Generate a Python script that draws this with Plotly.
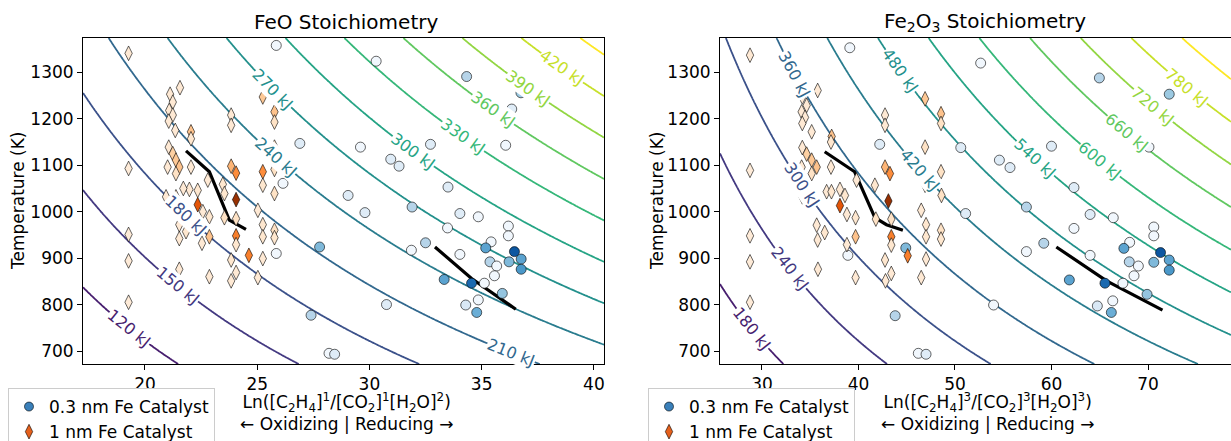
import math
import numpy as np
import plotly.graph_objects as go
from plotly.colors import sample_colorscale, sequential

W, H = 1231, 441
R_GAS = 8.314  # J / (mol K)

# ---------------- axis limits ----------------
X1_RANGE = [17.24, 40.45]
X2_RANGE = [25.65, 78.6]
Y_RANGE = [672, 1374]

# ---------------- contour levels (kJ) ----------------
FEO_LEVELS = dict(start=90, end=450, size=30)
FE2O3_LEVELS = dict(start=120, end=840, size=60)
FEO_LABEL_LEVELS = [120, 150, 180, 210, 240, 270, 300, 330, 360, 390, 420]
FE2O3_LABEL_LEVELS = [180, 240, 300, 360, 420, 480, 540, 600, 660, 720, 780]
# x position along each labelled contour where its label sits
FEO_LABEL_X = [19.3, 21.46, 21.83, 36.3, 25.85, 25.7, 31.95, 34.18, 35.52, 37.08, 38.57]
FE2O3_LABEL_X = [28.93, 32.9, 34.1, 33.4, 46.4, 44.3, 58.3, 65.0, 67.8, 70.55, 74.0]

# ---------------- FeO panel data ----------------
feo_small_x = [30.3, 34.33, 36.75, 36.34, 36.07, 32.72, 29.6, 30.95, 31.32, 33.5, 29.05, 31.9,
               25.85, 26.9, 26.15, 27.78, 25.85, 27.4, 28.2, 28.45, 29.8, 34.03, 34.85, 33.48,
               36.19, 36.19, 35.42, 32.5, 31.87, 34.03, 35.18, 36.46, 36.76, 36.76, 36.22, 35.37,
               35.67, 35.57, 33.33, 34.55, 35.12, 35.92, 34.85, 34.29, 34.78, 30.76]
feo_small_t = [1324, 1291, 1256, 1221, 1143, 1145, 1139, 1113, 1098, 1053, 1035, 1010,
               1358, 1147, 1061, 924, 910, 777, 695, 693, 998, 996, 989, 965,
               969, 948, 935, 933, 917, 908, 922, 914, 898, 876, 892, 892,
               883, 862, 854, 846, 846, 824, 810, 799, 783, 800]
feo_small_c = [0.03, 0.3, 0.38, 0.12, 0.03, 0.12, 0.03, 0.12, 0.12, 0.12, 0.12, 0.3,
               0.03, 0.12, 0.03, 0.45, 0.03, 0.3, 0.03, 0.12, 0.12, 0.12, 0.03, 0.03,
               0.03, 0.03, 0.03, 0.3, 0.03, 0.03, 0.55, 0.85, 0.55, 0.6, 0.45, 0.3,
               0.03, 0.03, 0.55, 0.78, 0.03, 0.4, 0.03, 0.15, 0.5, 0.12]

feo_large_x = [19.27, 21.56, 21.12, 21.24, 21.08, 21.24, 21.06, 21.35, 22.05, 22.05, 23.84, 23.84,
               25.25, 25.77, 25.77, 21.06, 21.24, 21.38, 21.53, 21.01, 21.38, 22.05, 19.27, 23.84,
               24.06, 22.8, 23.47, 21.98, 22.35, 21.71, 25.25, 25.77, 25.25, 25.77, 24.06, 22.35,
               20.94, 21.38, 23.54, 22.58, 22.87, 21.53, 21.83, 21.53, 22.87, 22.54, 23.54, 24.06,
               24.06, 24.06, 25.03, 25.25, 25.25, 25.77, 25.77, 19.27, 19.27, 19.27, 23.84, 24.06,
               23.84, 24.63, 25.25, 25.03, 21.53, 22.87, 25.77]
feo_large_t = [1341, 1267, 1253, 1236, 1218, 1208, 1195, 1175, 1172, 1157, 1208, 1186,
               1247, 1215, 1193, 1139, 1125, 1111, 1096, 1096, 1082, 1096, 1093, 1098,
               1083, 1068, 1059, 1048, 1046, 1050, 1086, 1091, 1057, 1039, 1026, 1015,
               1032, 1032, 1039, 1000, 989, 972, 957, 942, 946, 932, 987, 985,
               948, 929, 1003, 972, 946, 960, 944, 951, 894, 805, 896, 869,
               851, 906, 899, 858, 876, 860, 1139]
feo_large_c = [0.1, 0.1, 0.1, 0.1, 0.1, 0.1, 0.1, 0.1, 0.3, 0.12, 0.1, 0.1,
               0.28, 0.3, 0.15, 0.1, 0.25, 0.28, 0.3, 0.1, 0.15, 0.1, 0.08, 0.35,
               0.5, 0.1, 0.12, 0.1, 0.12, 0.1, 0.5, 0.15, 0.12, 0.15, 0.92, 0.7,
               0.1, 0.12, 0.12, 0.1, 0.12, 0.1, 0.12, 0.1, 0.3, 0.1, 0.15, 0.15,
               0.55, 0.12, 0.1, 0.12, 0.12, 0.15, 0.12, 0.08, 0.08, 0.08, 0.12, 0.1,
               0.1, 0.55, 0.1, 0.1, 0.1, 0.1, 0.15]

feo_trend_a_x = [21.83, 22.87, 23.76, 24.5]
feo_trend_a_t = [1131, 1086, 982, 962]
feo_trend_b_x = [32.92, 34.55, 36.52]
feo_trend_b_t = [924, 856, 790]

# ---------------- Fe2O3 panel data ----------------
fe2o3_small_x = [39.1, 42.2, 50.6, 52.66, 64.96, 72.2, 70.97, 70.1, 60.0, 54.6, 55.7, 62.33,
                 57.4, 51.1, 64.0, 66.4, 62.33, 70.6, 70.6, 68.1, 59.2, 57.4, 64.0, 67.5,
                 71.3, 72.2, 72.2, 70.6, 68.06, 69.0, 68.55, 61.85, 65.54, 67.4, 69.9, 66.35,
                 64.75, 66.2, 54.0, 44.9, 38.9, 43.8, 46.2, 47.0]
fe2o3_small_t = [1353, 1145, 1138, 1320, 1288, 1253, 1218, 1139, 1141, 1111, 1095, 1052,
                 1010, 996, 994, 987, 964, 967, 948, 934, 932, 914, 906, 921,
                 912, 896, 874, 891, 892, 883, 862, 853, 846, 846, 822, 808,
                 797, 783, 799, 922, 906, 776, 695, 693]
fe2o3_small_c = [0.03, 0.12, 0.12, 0.03, 0.3, 0.38, 0.12, 0.03, 0.12, 0.12, 0.12, 0.12,
                 0.3, 0.12, 0.12, 0.03, 0.03, 0.03, 0.03, 0.03, 0.3, 0.03, 0.03, 0.55,
                 0.85, 0.55, 0.6, 0.45, 0.3, 0.03, 0.03, 0.55, 0.78, 0.03, 0.4, 0.03,
                 0.15, 0.5, 0.03, 0.45, 0.03, 0.3, 0.03, 0.12]

fe2o3_large_x = [28.76, 35.77, 34.18, 34.63, 34.11, 34.46, 34.18, 35.15, 37.22, 37.15, 42.75, 42.75,
                 46.9, 48.55, 48.55, 34.18, 34.63, 35.15, 35.67, 34.11, 35.15, 37.15, 28.76, 42.75,
                 43.26, 46.9, 46.9, 48.55, 39.8, 41.7, 46.9, 48.6, 36.7, 37.2, 38.08, 38.6,
                 43.1, 38.08, 34.18, 35.2, 38.8, 39.7, 35.67, 36.5, 35.77, 39.7, 38.8, 41.8,
                 43.4, 43.4, 43.4, 46.5, 47.0, 47.0, 48.55, 48.55, 28.76, 28.76, 28.76, 42.75,
                 43.4, 42.8, 45.1, 47.0, 46.5, 35.8, 39.7]
fe2o3_large_t = [1337, 1261, 1247, 1229, 1215, 1203, 1190, 1172, 1162, 1150, 1208, 1186,
                 1243, 1211, 1190, 1138, 1124, 1111, 1096, 1096, 1082, 1096, 1089, 1096,
                 1082, 1139, 1082, 1086, 1068, 1057, 1057, 1035, 1043, 1043, 1048, 1035,
                 1023, 1013, 1032, 1030, 994, 987, 971, 955, 939, 946, 929, 984,
                 984, 946, 928, 1003, 972, 946, 960, 941, 948, 892, 805, 896,
                 867, 851, 905, 898, 858, 876, 858]
fe2o3_large_c = [0.1, 0.1, 0.1, 0.1, 0.1, 0.1, 0.1, 0.1, 0.3, 0.12, 0.1, 0.1,
                 0.28, 0.3, 0.15, 0.1, 0.25, 0.28, 0.3, 0.1, 0.15, 0.1, 0.08, 0.35,
                 0.5, 0.15, 0.5, 0.15, 0.1, 0.12, 0.12, 0.15, 0.1, 0.12, 0.1, 0.12,
                 0.92, 0.7, 0.1, 0.12, 0.1, 0.12, 0.1, 0.12, 0.1, 0.3, 0.1, 0.15,
                 0.15, 0.55, 0.12, 0.1, 0.12, 0.12, 0.15, 0.12, 0.08, 0.08, 0.08, 0.12,
                 0.1, 0.1, 0.55, 0.1, 0.1, 0.1, 0.1]

fe2o3_trend_a_x = [36.5, 39.6, 41.7, 42.9, 44.6]
fe2o3_trend_a_t = [1129, 1086, 987, 972, 960]
fe2o3_trend_b_x = [60.5, 65.7, 71.5]
fe2o3_trend_b_t = [924, 851, 788]

SMALL_NAME = "0.3 nm Fe Catalyst"
LARGE_NAME = "1 nm Fe Catalyst"

# ---------------- layout geometry (pixels) ----------------
P1_L, P1_R = 83, 604
P2_L, P2_R = 720, 1231
P_TOP, P_BOT = 38, 364
LEGEND_TOP = 388
XTITLE_TOP = 388
FONT = "DejaVu Sans"
FS = 17

def px(x):
    return x / W

def py(y):
    return 1 - y / H

VIRIDIS = sequential.Viridis
BLUES = sequential.Blues
ORANGES = sequential.Oranges

fig = go.Figure()

def add_panel(xr, levels, xa, ya):
    gx = np.linspace(xr[0], xr[1], 300)
    gy = np.linspace(Y_RANGE[0], Y_RANGE[1], 300)
    z = R_GAS * gy[:, None] * gx[None, :] / 1000.0
    fig.add_trace(go.Contour(
        x=gx, y=gy, z=z, xaxis=xa, yaxis=ya,
        autocontour=False,
        contours=dict(start=levels["start"], end=levels["end"], size=levels["size"],
                      coloring="lines", showlabels=False),
        colorscale=VIRIDIS, showscale=False, line=dict(width=1.8),
        hoverinfo="skip"))

add_panel(X1_RANGE, FEO_LEVELS, "x", "y")
add_panel(X2_RANGE, FE2O3_LEVELS, "x2", "y2")

def add_line(xs, ts, xa, ya):
    fig.add_trace(go.Scatter(x=xs, y=ts, xaxis=xa, yaxis=ya, mode="lines",
                             line=dict(color="black", width=3.2), showlegend=False,
                             hoverinfo="skip"))

add_line(feo_trend_a_x, feo_trend_a_t, "x", "y")
add_line(feo_trend_b_x, feo_trend_b_t, "x", "y")
add_line(fe2o3_trend_a_x, fe2o3_trend_a_t, "x2", "y2")
add_line(fe2o3_trend_b_x, fe2o3_trend_b_t, "x2", "y2")

def add_points(xs, ts, cs, scale, symbol, size, xa, ya):
    fig.add_trace(go.Scatter(
        x=xs, y=ts, xaxis=xa, yaxis=ya, mode="markers", showlegend=False,
        marker=dict(color=cs, colorscale=scale, cmin=0, cmax=1, symbol=symbol, size=size,
                    line=dict(color="black", width=0.6))))

add_points(feo_small_x, feo_small_t, feo_small_c, BLUES, "circle", 10, "x", "y")
add_points(feo_large_x, feo_large_t, feo_large_c, ORANGES, "diamond-tall", 10.5, "x", "y")
add_points(fe2o3_small_x, fe2o3_small_t, fe2o3_small_c, BLUES, "circle", 10, "x2", "y2")
add_points(fe2o3_large_x, fe2o3_large_t, fe2o3_large_c, ORANGES, "diamond-tall", 10.5, "x2", "y2")

# legend-only entries
for lg, xa, ya in (("legend", "x", "y"), ("legend2", "x2", "y2")):
    fig.add_trace(go.Scatter(x=[None], y=[None], xaxis=xa, yaxis=ya, mode="markers",
                             name=SMALL_NAME, legend=lg,
                             marker=dict(color="#3a80ba", size=9, symbol="circle",
                                         line=dict(color="black", width=0.6))))
    fig.add_trace(go.Scatter(x=[None], y=[None], xaxis=xa, yaxis=ya, mode="markers",
                             name=LARGE_NAME, legend=lg,
                             marker=dict(color="#e5601c", size=10.5, symbol="diamond-tall",
                                         line=dict(color="black", width=0.6))))

# contour labels
annotations = []

def label_contours(levels_cfg, label_levels, label_x, xr, pl, pr, xref, yref):
    kx = (pr - pl) / (xr[1] - xr[0])
    ky = (P_BOT - P_TOP) / (Y_RANGE[1] - Y_RANGE[0])
    span = levels_cfg["end"] - levels_cfg["start"]
    for lvl, xv in zip(label_levels, label_x):
        tv = lvl * 1000.0 / (R_GAS * xv)
        ang = math.degrees(math.atan((tv / xv) * ky / kx))
        col = sample_colorscale(VIRIDIS, [(lvl - levels_cfg["start"]) / span])[0]
        annotations.append(dict(x=xv, y=tv, xref=xref, yref=yref, text=f"{lvl} kJ",
                                showarrow=False, textangle=ang, bgcolor="white",
                                borderpad=0,
                                font=dict(family=FONT, size=FS - 1, color=col)))

label_contours(FEO_LEVELS, FEO_LABEL_LEVELS, FEO_LABEL_X, X1_RANGE, P1_L, P1_R, "x", "y")
label_contours(FE2O3_LEVELS, FE2O3_LABEL_LEVELS, FE2O3_LABEL_X, X2_RANGE, P2_L, P2_R, "x2", "y2")

# titles and axis labels
for text, cx in (("FeO Stoichiometry", 346), ("Fe<sub>2</sub>O<sub>3</sub> Stoichiometry", 985)):
    annotations.append(dict(x=px(cx), y=py(22), xref="paper", yref="paper", text=text,
                            showarrow=False, font=dict(family=FONT, size=20, color="black"),
                            xanchor="center", yanchor="middle"))
xt1 = ("Ln([C<sub>2</sub>H<sub>4</sub>]<sup>1</sup>/[CO<sub>2</sub>]<sup>1</sup>"
       "[H<sub>2</sub>O]<sup>2</sup>)<br>← Oxidizing | Reducing →")
xt2 = ("Ln([C<sub>2</sub>H<sub>4</sub>]<sup>3</sup>/[CO<sub>2</sub>]<sup>3</sup>"
       "[H<sub>2</sub>O]<sup>3</sup>)<br>← Oxidizing | Reducing →")
for text, cx in ((xt1, 346), (xt2, 987)):
    annotations.append(dict(x=px(cx), y=py(XTITLE_TOP), xref="paper", yref="paper", text=text,
                            showarrow=False, font=dict(family=FONT, size=FS, color="black"),
                            xanchor="center", yanchor="top"))
for cx in (18, 657):
    annotations.append(dict(x=px(cx), y=py((P_TOP + P_BOT) / 2), xref="paper", yref="paper",
                            text="Temperature (K)", showarrow=False, textangle=-90,
                            font=dict(family=FONT, size=FS, color="black"),
                            xanchor="center", yanchor="middle"))

axis_common = dict(showline=True, linecolor="black", linewidth=1, ticks="outside",
                   ticklen=5, tickwidth=1, tickcolor="black", showgrid=False, zeroline=False,
                   automargin=False,
                   tickfont=dict(family=FONT, size=FS, color="black"))

fig.update_layout(
    width=W, height=H, margin=dict(l=0, r=0, t=0, b=0, autoexpand=False),
    paper_bgcolor="white", plot_bgcolor="white",
    font=dict(family=FONT, size=FS, color="black"),
    xaxis=dict(domain=[px(P1_L), px(P1_R)], range=X1_RANGE, dtick=5, tick0=0, mirror=True,
               anchor="y", **axis_common),
    yaxis=dict(domain=[py(P_BOT), py(P_TOP)], range=Y_RANGE, dtick=100, tick0=0, mirror=True,
               anchor="x", **axis_common),
    xaxis2=dict(domain=[px(P2_L), 1.0], range=X2_RANGE, dtick=10, tick0=0, mirror=True,
                anchor="y2", **axis_common),
    yaxis2=dict(domain=[py(P_BOT), py(P_TOP)], range=Y_RANGE, dtick=100, tick0=0, mirror=False,
                anchor="x2", **axis_common),
    legend=dict(x=px(8), y=py(LEGEND_TOP), xanchor="left", yanchor="top", bgcolor="white",
                bordercolor="#cccccc", borderwidth=1, font=dict(family=FONT, size=FS)),
    legend2=dict(x=px(648), y=py(LEGEND_TOP), xanchor="left", yanchor="top", bgcolor="white",
                 bordercolor="#cccccc", borderwidth=1, font=dict(family=FONT, size=FS)),
    annotations=annotations,
)

fig.write_html("out.html")
